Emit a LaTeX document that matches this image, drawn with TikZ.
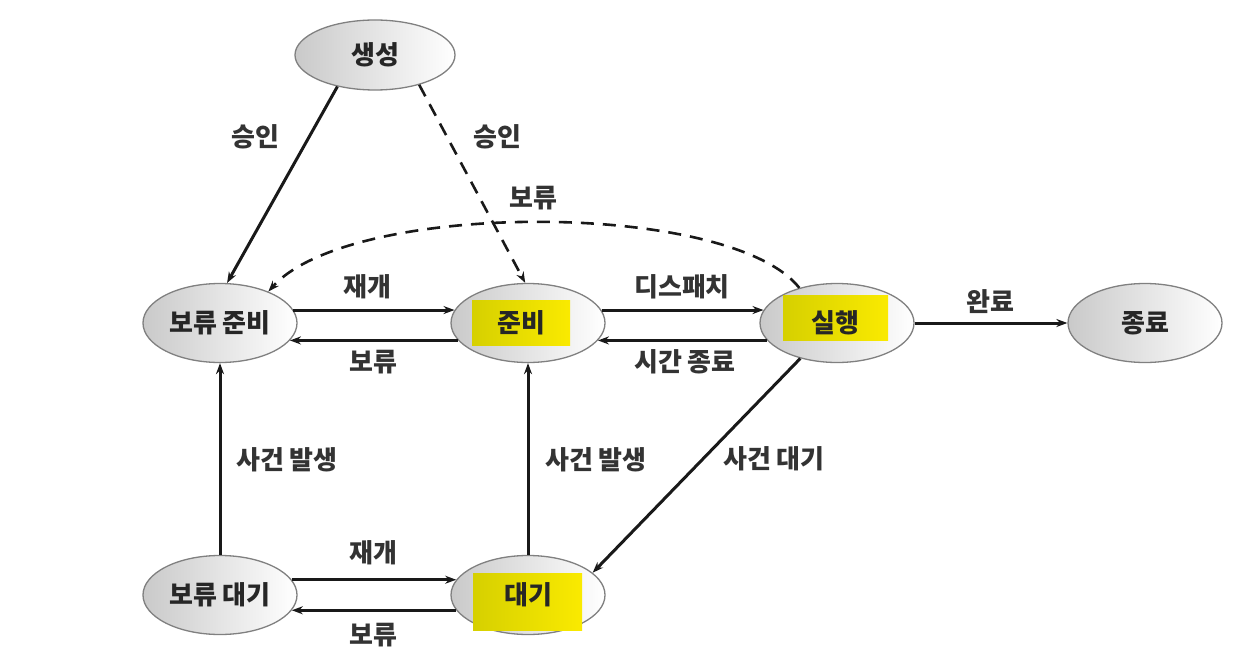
\documentclass[tikz,border=0pt]{standalone}
\usepackage{fontspec}
\setmainfont{Noto Sans CJK KR}
\usetikzlibrary{shapes.geometric,arrows.meta}
\definecolor{hlL}{RGB}{214,208,0}
\definecolor{hlR}{RGB}{250,234,0}
\begin{document}
\begin{tikzpicture}[x=1pt,y=-1pt,
  state/.style={ellipse,draw=black!50,line width=1.3pt,minimum width=154pt,minimum height=79pt,
    left color=black!21,middle color=black!6,right color=white,inner sep=0pt},
  txt/.style={font=\fontsize{26}{30}\selectfont\bfseries,text=black!85,inner sep=0pt},
  arr/.style={-{Stealth[length=11pt,width=8pt]},line width=3pt,black!90},
  dsh/.style={dash pattern=on 13pt off 9pt,line width=2.6pt},
  lbl/.style={font=\fontsize{26}{30}\selectfont\bfseries,text=black!80,inner sep=0pt},
  hl/.style={left color=hlL,right color=hlR,draw=none}]
\useasboundingbox (0,0) rectangle (1260,666);
\fill[white] (0,0) rectangle (1260,666);
% nodes
\node[state,minimum width=160pt,minimum height=70pt] (gen) at (375,55) {};
\node[state] (hr) at (220,323) {};
\node[state] (rd) at (528,323) {};
\node[state] (run) at (837,323) {};
\node[state] (end) at (1145,323) {};
\node[state] (hw) at (220,595) {};
\node[state] (wt) at (528,595) {};
% highlights
\shade[hl] (472,300) rectangle (570,345);
\shade[hl] (783,295) rectangle (888,340);
\shade[hl] (473,573) rectangle (582,630);
% texts
\node[txt] (t1) at (375,55) {생성};
\node[txt] (t2) at (220,323) {보류 준비};
\node[txt] (t3) at (521,323) {준비};
\node[txt] (t4) at (835,323) {실행};
\node[txt] (t5) at (1145,323) {종료};
\node[txt] (t6) at (220,595) {보류 대기};
\node[txt] (t7) at (528,595) {대기};
% connectors
\draw[arr] (gen.220) -- (hr.80);
\draw[arr,dsh] (gen.326) -- (rd.94);
\draw[arr,dsh] (run.137) .. controls (730,200) and (350,200) .. (hr.33);
\draw[arr] (hr.10) -- (rd.170);
\draw[arr] (rd.194) -- (hr.346);
\draw[arr] (rd.10) -- (run.170);
\draw[arr] (run.194) -- (rd.346);
\draw[arr] (run.east) -- (end.west);
\draw[arr] (hw.north) -- (hr.south);
\draw[arr] (wt.north) -- (rd.south);
\draw[arr] (run.224) -- (wt.19);
\draw[arr] (hw.12) -- (wt.168);
\draw[arr] (wt.192) -- (hw.348);
% labels
\node[lbl] at (255,137) {승인};
\node[lbl] at (497,137) {승인};
\node[lbl] at (533,198) {보류};
\node[lbl] at (367,287) {재개};
\node[lbl] at (373,362) {보류};
\node[lbl] at (682,287) {디스패치};
\node[lbl] at (685,362) {시간 종료};
\node[lbl] at (990,302) {완료};
\node[lbl] at (287,460) {사건 발생};
\node[lbl] at (596,460) {사건 발생};
\node[lbl] at (774,459) {사건 대기};
\node[lbl] at (373,553) {재개};
\node[lbl] at (373,635) {보류};
\end{tikzpicture}
\end{document}
